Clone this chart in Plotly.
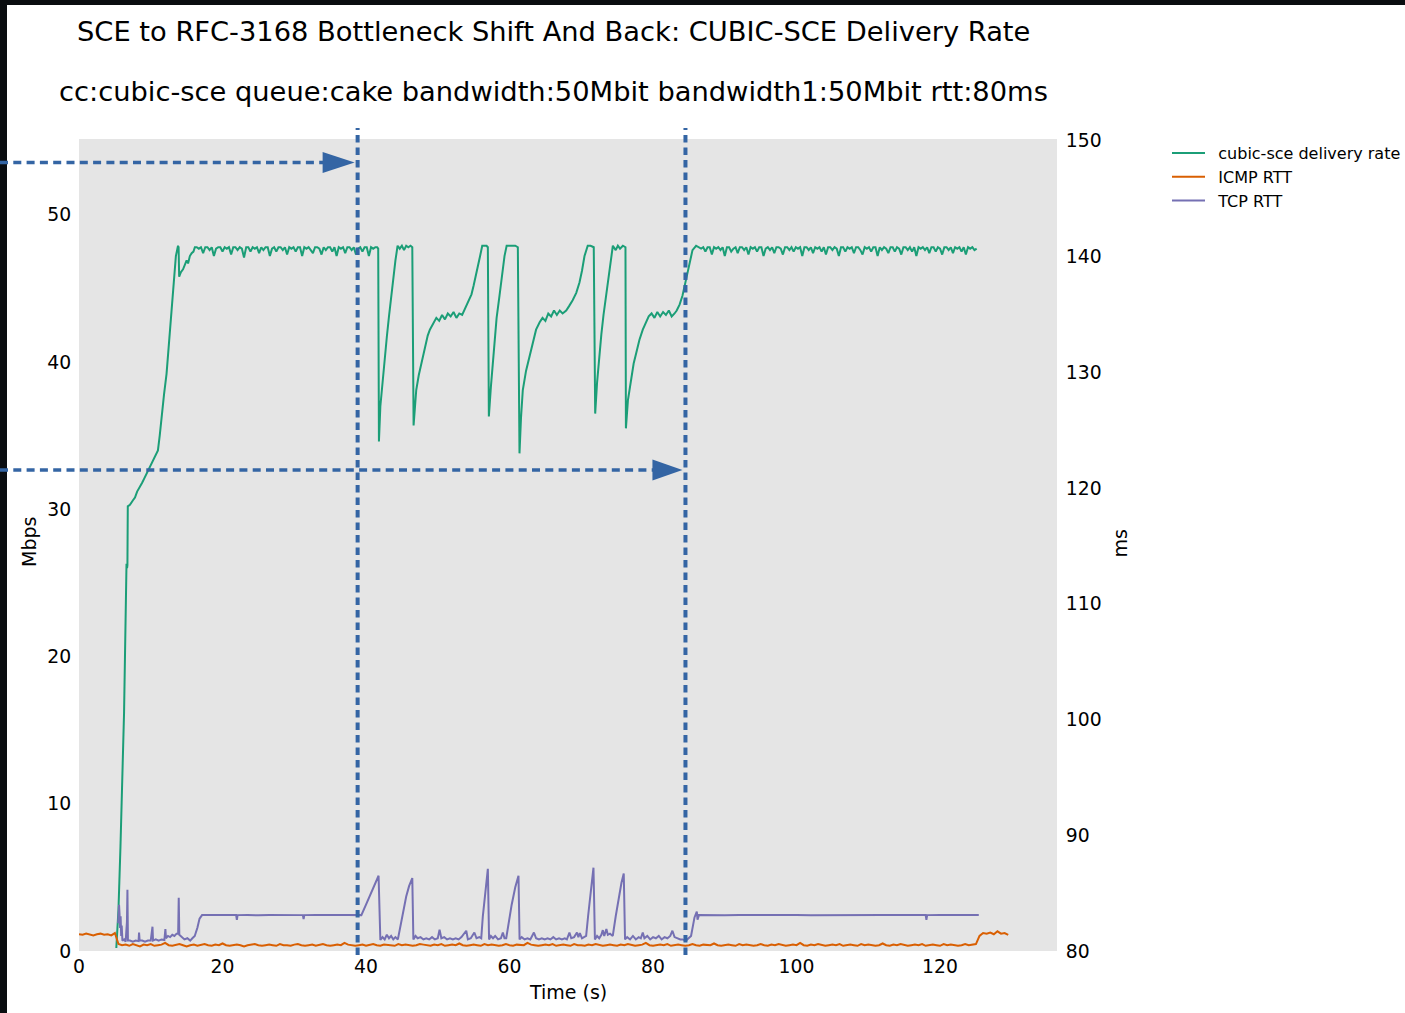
import plotly.graph_objects as go

# ---------------- data ----------------
# cubic-sce delivery rate (Mbps) : shaped parts (explicit times)
rate_t_a = [5.2, 5.5, 5.78, 6.05, 6.28, 6.62, 6.7, 6.75, 6.8, 7.1, 7.5, 7.8, 8.1, 8.5, 8.8, 9.1, 9.4,
            9.7, 10.1, 10.4, 10.7, 11.0, 11.25, 11.5, 11.85, 12.2, 12.55, 12.9, 13.2, 13.5, 13.8,
            13.88, 13.96, 14.2, 14.5, 14.8, 15.0, 15.2, 15.45, 15.7, 15.95, 16.15]
rate_v_a = [0.2, 2.8, 7.1, 11.8, 16.2, 26.3, 26.0, 26.2, 30.2, 30.3, 30.6, 30.8, 31.2, 31.5, 31.8, 32.1, 32.4,
            32.7, 33.1, 33.3, 33.6, 34.0, 35.0, 36.3, 37.8, 39.2, 41.4, 43.5, 45.4, 47.2, 47.9,
            47.8, 45.8, 46.1, 46.3, 46.6, 46.9, 46.7, 47.2, 47.4, 47.5, 47.8]
# steady segment 1 sampled every 0.3 s from 16.4 s
rate_flat1_start, rate_flat1_step = 16.4, 0.3
rate_flat1 = [47.8, 47.7, 47.8, 47.4, 47.8, 47.8, 47.6, 47.8, 47.2, 47.7,
              47.8, 47.8, 47.5, 47.8, 47.7, 47.8, 47.3, 47.8, 47.8, 47.6,
              47.8, 47.7, 47.1, 47.8, 47.8, 47.5, 47.8, 47.7, 47.8, 47.4,
              47.8, 47.6, 47.8, 47.8, 47.2, 47.7, 47.8, 47.5, 47.8, 47.8,
              47.6, 47.8, 47.3, 47.8, 47.7, 47.8, 47.5, 47.8, 47.8, 47.2,
              47.8, 47.7, 47.8, 47.6, 47.4, 47.8, 47.8, 47.7, 47.3, 47.8,
              47.6, 47.8, 47.8, 47.5, 47.8, 47.2, 47.8, 47.7, 47.8, 47.4,
              47.8, 47.8, 47.6, 47.8, 47.3, 47.7, 47.8, 47.5, 47.8, 47.8,
              47.2, 47.8, 47.7, 47.8]
rate_t_b = [41.55, 41.7, 41.8, 42.0, 42.3, 42.6, 42.9, 43.2, 43.5, 43.8, 44.1, 44.4, 44.7, 45.0, 45.3, 45.6,
            45.9, 46.2, 46.45, 46.63, 46.8, 47.0, 47.35, 47.7, 48.0, 48.3, 48.6, 48.9, 49.3, 49.8, 50.2,
            50.6, 51.0, 51.4, 51.8, 52.2, 52.6, 53.0, 53.4, 53.8, 54.1, 54.4, 54.7, 55.0, 55.3, 55.6,
            55.9, 56.2, 56.5, 56.8, 56.98, 57.12, 57.4, 57.67, 57.9, 58.2, 58.6, 59.0, 59.3, 59.6, 60.0,
            60.4, 60.8, 61.16, 61.39, 61.6, 61.85, 62.3, 62.8, 63.2, 63.7, 64.2, 64.6, 65.0, 65.4, 65.8,
            66.2, 66.6, 67.0, 67.4, 67.9, 68.3, 68.8, 69.3, 69.75, 70.1, 70.45, 70.9, 71.3, 71.74, 71.94,
            72.2, 72.53, 72.8, 73.1, 73.47, 73.8, 74.16, 74.4, 74.8, 75.1, 75.4, 75.8, 76.16, 76.22,
            76.5, 76.95, 77.3, 77.65, 78.1, 78.57, 79.0, 79.4, 79.8, 80.2, 80.6, 81.0, 81.4, 81.8, 82.2,
            82.6, 83.0, 83.3, 83.7, 84.1, 84.6, 85.1, 85.5, 86.0]
rate_v_b = [47.8, 47.7, 34.6, 37.0, 38.7, 40.0, 41.7, 43.1, 44.5, 45.8, 46.9, 47.9, 47.7, 47.9, 47.6, 47.9,
            47.8, 47.9, 47.8, 35.7, 37.0, 38.1, 39.1, 39.9, 40.6, 41.2, 41.8, 42.2, 42.6, 43.0, 42.8,
            43.2, 42.9, 43.3, 43.1, 43.4, 43.0, 43.3, 43.2, 43.6, 43.9, 44.2, 44.6, 45.2, 45.8, 46.5,
            47.2, 47.9, 47.9, 47.9, 47.8, 36.3, 38.3, 40.1, 41.6, 43.0, 44.5, 46.1, 47.2, 47.9, 47.9,
            47.9, 47.9, 47.8, 33.8, 36.2, 38.1, 39.4, 40.4, 41.3, 42.2, 42.7, 43.0, 42.8, 43.3, 43.1,
            43.5, 43.2, 43.5, 43.3, 43.5, 43.8, 44.2, 44.7, 45.4, 46.2, 47.2, 47.9, 47.9, 47.8, 36.5,
            38.6, 40.6, 41.9, 43.2, 44.5, 45.9, 47.2, 47.9, 47.6, 47.9, 47.7, 47.9, 47.8, 35.5,
            37.4, 39.0, 39.9, 40.6, 41.5, 42.2, 42.7, 43.1, 43.3, 43.0, 43.4, 43.1, 43.4, 43.2, 43.5,
            43.1, 43.3, 43.5, 43.9, 44.5, 45.6, 46.7, 47.6, 47.9]
# steady segment 2 sampled every 0.3 s from 86.4 s
rate_flat2_start, rate_flat2_step = 86.4, 0.3
rate_flat2 = [47.8, 47.7, 47.8, 47.5, 47.8, 47.8, 47.3, 47.8, 47.7, 47.8,
              47.6, 47.8, 47.2, 47.8, 47.8, 47.5, 47.7, 47.8, 47.4, 47.8,
              47.8, 47.6, 47.8, 47.3, 47.8, 47.7, 47.8, 47.5, 47.8, 47.8,
              47.2, 47.7, 47.8, 47.6, 47.8, 47.4, 47.8, 47.8, 47.7, 47.3,
              47.8, 47.8, 47.6, 47.8, 47.5, 47.8, 47.7, 47.8, 47.2, 47.8,
              47.8, 47.6, 47.8, 47.4, 47.8, 47.7, 47.8, 47.5, 47.8, 47.3,
              47.8, 47.8, 47.6, 47.8, 47.7, 47.2, 47.8, 47.8, 47.5, 47.8,
              47.7, 47.8, 47.4, 47.8, 47.8, 47.6, 47.3, 47.8, 47.7, 47.8,
              47.5, 47.8, 47.8, 47.2, 47.8, 47.6, 47.8, 47.7, 47.4, 47.8,
              47.8, 47.5, 47.8, 47.7, 47.3, 47.8, 47.8, 47.6, 47.8, 47.5,
              47.8, 47.2, 47.8, 47.7, 47.8, 47.6, 47.8, 47.4, 47.8, 47.8,
              47.5, 47.8, 47.7, 47.3, 47.8, 47.8, 47.6, 47.8, 47.4, 47.8,
              47.7, 47.8, 47.5, 47.8, 47.3, 47.8, 47.7, 47.8, 47.6, 47.7]

# ICMP RTT (ms), sampled every 0.5 s from 0 s
icmp_start, icmp_step = 0.0, 0.5
icmp_v = [81.45, 81.4, 81.5, 81.45, 81.35, 81.45, 81.5, 81.4, 81.45, 81.35, 81.55,
          80.6, 80.5, 80.55, 80.45, 80.6, 80.5, 80.4, 80.55, 80.5, 80.6, 80.45, 80.5, 80.55, 80.7, 80.5, 80.45, 80.5, 80.6, 80.5, 80.4,
          80.5, 80.55, 80.45, 80.5, 80.6, 80.5, 80.45, 80.55, 80.5, 80.65, 80.5, 80.45, 80.5, 80.55, 80.5, 80.4, 80.5, 80.55, 80.6, 80.5,
          80.45, 80.5, 80.55, 80.5, 80.45, 80.6, 80.5, 80.5, 80.45, 80.55, 80.6, 80.5, 80.45, 80.5, 80.55, 80.45, 80.5, 80.6, 80.5, 80.45,
          80.5, 80.55, 80.5, 80.7, 80.55, 80.5, 80.45, 80.5, 80.55, 80.45, 80.5, 80.6, 80.5, 80.45, 80.55, 80.5, 80.5, 80.45, 80.6, 80.5,
          80.55, 80.5, 80.45, 80.5, 80.6, 80.55, 80.5, 80.45, 80.55, 80.5, 80.6, 80.45, 80.5, 80.55, 80.5, 80.65, 80.5, 80.45, 80.5, 80.55,
          80.5, 80.45, 80.6, 80.5, 80.55, 80.5, 80.45, 80.5, 80.6, 80.5, 80.45, 80.55, 80.5, 80.5, 80.7, 80.55, 80.5, 80.45, 80.5, 80.55,
          80.5, 80.6, 80.45, 80.5, 80.55, 80.5, 80.45, 80.6, 80.5, 80.5, 80.45, 80.55, 80.5, 80.6, 80.5, 80.45, 80.5, 80.55, 80.5, 80.45,
          80.55, 80.5, 80.6, 80.5, 80.45, 80.5, 80.55, 80.7, 80.5, 80.45, 80.5, 80.55, 80.5, 80.6, 80.45, 80.5, 80.55, 80.5, 80.45, 80.5,
          80.6, 80.5, 80.45, 80.55, 80.5, 80.5, 80.65, 80.5, 80.45, 80.5, 80.55, 80.5, 80.45, 80.6, 80.5, 80.55, 80.5, 80.45, 80.5, 80.6,
          80.5, 80.45, 80.55, 80.5, 80.6, 80.5, 80.45, 80.5, 80.55, 80.5, 80.7, 80.5, 80.45, 80.55, 80.5, 80.6, 80.5, 80.45, 80.5, 80.55,
          80.5, 80.6, 80.45, 80.5, 80.55, 80.5, 80.45, 80.6, 80.5, 80.55, 80.5, 80.45, 80.5, 80.65, 80.5, 80.45, 80.55, 80.5, 80.6, 80.5,
          80.45, 80.5, 80.55, 80.5, 80.6, 80.45, 80.5, 80.55, 80.5, 80.45, 80.6, 80.5, 80.55, 80.5, 80.45, 80.5, 80.6, 80.5, 80.55, 80.6,
          81.3, 81.55, 81.5, 81.6, 81.45, 81.7, 81.5, 81.55, 81.4]

# TCP RTT (ms)
tcp_t = [5.45, 5.52, 5.58, 5.65, 5.72, 5.8, 5.88, 5.95, 6.05, 6.3, 6.5, 6.68, 6.75, 6.82, 7.1, 7.5, 7.9,
         8.3, 8.37, 8.45, 8.8, 9.2, 9.6, 10.0, 10.24, 10.32, 10.7, 11.1, 11.5, 11.9, 12.04, 12.12, 12.4,
         12.7, 13.0, 13.3, 13.6, 13.82, 13.9, 13.98, 14.3, 14.7, 15.1, 15.5, 15.8, 16.13, 16.5, 16.8,
         17.15, 18.0, 19.0, 20.0, 21.0, 21.9, 22.0, 22.1, 23.5, 25.0, 26.5, 28.0, 29.5, 31.2, 31.3, 31.4,
         33.0, 34.5, 36.0, 37.5, 39.35, 40.0, 40.6, 41.2, 41.75, 42.0, 42.3, 42.6, 42.9, 43.2, 43.5, 43.8,
         44.1, 44.44, 44.8, 45.2, 45.6, 46.0, 46.45, 46.6, 46.9, 47.2, 47.6, 48.0, 48.4, 48.8, 49.2, 49.6,
         50.0, 50.25, 50.5, 50.9, 51.3, 51.7, 52.1, 52.5, 52.9, 53.3, 53.97, 54.2, 54.6, 55.1, 55.4, 55.8,
         56.06, 56.28, 56.6, 56.98, 57.15, 57.4, 57.7, 58.0, 58.4, 58.8, 59.07, 59.3, 59.54, 59.9, 60.3,
         60.8, 61.25, 61.4, 61.7, 62.1, 62.5, 62.9, 63.4, 63.7, 64.1, 64.5, 64.9, 65.3, 65.7, 66.1, 66.5,
         66.9, 67.3, 67.7, 68.0, 68.35, 68.6, 69.0, 69.4, 69.6, 69.8, 70.1, 70.4, 70.68, 70.95, 71.3, 71.7,
         71.9, 72.2, 72.5, 72.8, 73.0, 73.2, 73.5, 73.7, 74.0, 74.39, 74.8, 75.2, 75.6, 75.92, 76.1, 76.4,
         76.8, 77.2, 77.6, 78.0, 78.3, 78.57, 78.8, 79.2, 79.6, 80.0, 80.4, 80.8, 81.2, 81.6, 82.0, 82.4,
         82.7, 83.0, 83.4, 83.8, 84.1, 84.6, 85.3, 85.78, 86.1, 86.2, 86.4, 88.0, 90.0, 92.0, 94.0, 96.0,
         98.0, 100.0, 102.0, 104.0, 106.0, 108.0, 110.0, 112.0, 114.0, 116.0, 118.0, 118.1, 118.2, 120.0,
         122.0, 124.0, 125.4]
tcp_v = [82.4, 83.6, 84.0, 83.2, 82.0, 83.0, 81.3, 82.2, 80.9, 81.0, 80.8, 82.5, 85.3, 80.9, 80.9, 80.8, 80.9,
         80.85, 81.6, 80.9, 80.9, 80.8, 80.9, 80.9, 82.1, 80.9, 81.0, 80.9, 81.0, 80.95, 81.9, 81.1, 81.3,
         81.2, 81.4, 81.3, 81.5, 81.5, 84.6, 81.4, 81.2, 81.0, 81.1, 80.9, 81.1, 81.3, 82.0, 82.8,
         83.1, 83.1, 83.12, 83.08, 83.1, 83.1, 82.7, 83.1, 83.12, 83.08, 83.12, 83.1, 83.08, 83.1, 82.75, 83.1,
         83.12, 83.08, 83.1, 83.12, 83.1, 84.0, 84.9, 85.7, 86.5, 80.95, 81.2, 81.0, 81.4, 81.1, 81.3, 81.0,
         81.2, 81.0, 82.2, 83.6, 84.7, 85.6, 86.3, 81.0, 81.3, 81.1, 81.2, 81.0, 81.1, 81.0, 81.2, 81.0,
         81.1, 81.85, 81.1, 81.2, 81.0, 81.1, 81.0, 81.1, 81.0, 81.2, 81.75, 81.0, 81.1, 81.6, 81.1, 81.2,
         81.1, 83.0, 85.0, 87.1, 81.0, 81.3, 81.1, 81.3, 81.0, 81.1, 81.6, 81.1, 81.1, 82.5, 84.0,
         85.5, 86.5, 81.0, 81.2, 81.0, 81.1, 81.0, 81.6, 81.1, 81.0, 81.1, 81.0, 81.1, 81.0, 81.2, 81.0,
         81.1, 81.0, 81.1, 81.0, 81.6, 81.1, 81.2, 81.6, 81.2, 81.55, 81.1, 81.2, 81.3, 83.0, 85.0, 87.2,
         81.0, 81.3, 81.1, 81.4, 81.8, 81.3, 81.9, 81.4, 81.5, 81.3, 83.0, 84.6, 85.9, 86.7, 81.0, 81.2,
         81.0, 81.3, 81.0, 81.2, 81.1, 81.6, 81.1, 81.3, 81.0, 81.2, 81.1, 81.3, 81.0, 81.2, 81.1, 81.3,
         81.75, 81.2, 81.1, 81.0, 81.0, 80.9, 81.3, 82.9, 83.4, 82.7, 83.1, 83.12, 83.08, 83.1, 83.12, 83.08,
         83.1, 83.12, 83.08, 83.1, 83.12, 83.08, 83.1, 83.12, 83.1, 83.08, 83.1, 82.7, 83.1, 83.12,
         83.08, 83.1, 83.1]

# bottleneck shift / shift-back instants (s)
shift_times = [38.83, 84.52]

series_names = ["cubic-sce delivery rate", "ICMP RTT", "TCP RTT"]
series_colors = ["#1b9e77", "#d95f02", "#7570b3"]
title_text = "SCE to RFC-3168 Bottleneck Shift And Back: CUBIC-SCE Delivery Rate"
subtitle_text = "cc:cubic-sce queue:cake bandwidth:50Mbit bandwidth1:50Mbit rtt:80ms"

# ---------------- assemble ----------------
def grid(start, step, n):
    return [round(start + step * i, 3) for i in range(n)]

rate_t = (rate_t_a + grid(rate_flat1_start, rate_flat1_step, len(rate_flat1)) + rate_t_b
          + grid(rate_flat2_start, rate_flat2_step, len(rate_flat2)))
rate_v = rate_v_a + rate_flat1 + rate_v_b + rate_flat2
icmp_t = grid(icmp_start, icmp_step, len(icmp_v))

X_MAX = 136.3
FONT = "DejaVu Sans"
W, H = 1405, 1013
ML, MR, MT, MB = 79, 348, 139, 62
PW, PH = W - ML - MR, H - MT - MB

def px(xp):
    return (xp - ML) / PW

def py(yp):
    return (MT + PH - yp) / PH

LEG_PAD = "\u00a0\u2009"  # small gap between legend line and label

fig = go.Figure()
fig.add_trace(go.Scatter(x=rate_t, y=rate_v, mode="lines", name=LEG_PAD + series_names[0],
                         line=dict(color=series_colors[0], width=2), yaxis="y"))
fig.add_trace(go.Scatter(x=icmp_t, y=icmp_v, mode="lines", name=LEG_PAD + series_names[1],
                         line=dict(color=series_colors[1], width=2), yaxis="y2"))
fig.add_trace(go.Scatter(x=tcp_t, y=tcp_v, mode="lines", name=LEG_PAD + series_names[2],
                         line=dict(color=series_colors[2], width=2), yaxis="y2"))

tickfont = dict(family=FONT, size=18.8, color="black")
fig.update_layout(
    width=W, height=H,
    margin=dict(l=ML, r=MR, t=MT, b=MB, pad=0, autoexpand=False),
    paper_bgcolor="white", plot_bgcolor="#e5e5e5",
    font=dict(family=FONT, color="black"),
    showlegend=True,
    legend=dict(x=px(1167), y=py(136), xanchor="left", yanchor="top",
                font=dict(family=FONT, size=16, color="black"),
                bgcolor="rgba(0,0,0,0)", itemwidth=33),
    xaxis=dict(range=[0, X_MAX], tickvals=[0, 20, 40, 60, 80, 100, 120], showgrid=False,
               zeroline=False, showline=False, ticks="", ticklabelstandoff=2,
               tickfont=tickfont, automargin=False),
    yaxis=dict(range=[0, 55.15], tickvals=[0, 10, 20, 30, 40, 50], showgrid=False,
               zeroline=False, showline=False, ticks="outside", ticklen=3,
               tickcolor="rgba(0,0,0,0)", tickfont=tickfont, automargin=False),
    yaxis2=dict(range=[80, 150.15], tickvals=[80, 90, 100, 110, 120, 130, 140, 150], overlaying="y",
                side="right", showgrid=False, zeroline=False, showline=False, ticks="outside",
                ticklen=4, tickcolor="rgba(0,0,0,0)", tickfont=tickfont, automargin=False),
)

ann = []
ann.append(dict(text=title_text, x=px(553), y=py(31), xref="paper", yref="paper",
                xanchor="center", yanchor="middle", showarrow=False,
                font=dict(family=FONT, size=27.3, color="black")))
ann.append(dict(text=subtitle_text, x=px(553), y=py(91), xref="paper", yref="paper",
                xanchor="center", yanchor="middle", showarrow=False,
                font=dict(family=FONT, size=27.3, color="black")))
ann.append(dict(text="Time (s)", x=px(568), y=py(992), xref="paper", yref="paper",
                xanchor="center", yanchor="middle", showarrow=False,
                font=dict(family=FONT, size=19, color="black")))
ann.append(dict(text="Mbps", x=px(29), y=py(542), xref="paper", yref="paper", textangle=-90,
                xanchor="center", yanchor="middle", showarrow=False,
                font=dict(family=FONT, size=19, color="black")))
ann.append(dict(text="ms", x=px(1119.5), y=py(544), xref="paper", yref="paper", textangle=-90,
                xanchor="center", yanchor="middle", showarrow=False,
                font=dict(family=FONT, size=19, color="black")))
fig.update_layout(annotations=ann)

shapes = []
BLACK = "#0a0d10"
shapes.append(dict(type="rect", xref="paper", yref="paper", x0=px(0), x1=px(7), y0=py(H), y1=py(0),
                   fillcolor=BLACK, line=dict(width=0), layer="above"))
shapes.append(dict(type="rect", xref="paper", yref="paper", x0=px(0), x1=px(W), y0=py(5), y1=py(0),
                   fillcolor=BLACK, line=dict(width=0), layer="above"))
BLUE = "#3465a4"
for t in shift_times:
    xp = t / X_MAX
    shapes.append(dict(type="line", xref="paper", yref="paper", x0=xp, x1=xp, y0=py(955), y1=py(128),
                       line=dict(color=BLUE, width=4, dash="7.5px,5px"), layer="above"))
arrow_rows = [162.5, 470]  # pixel rows of the arrows
for t, yr, L in zip(shift_times, arrow_rows, [32, 30]):
    tip_px = ML + t / X_MAX * PW - 3
    base_px = tip_px - L
    yp = py(yr)
    shapes.append(dict(type="line", xref="paper", yref="paper", x0=px(0), x1=px(base_px + 2), y0=yp, y1=yp,
                       line=dict(color=BLUE, width=3.5, dash="8px,5.3px"), layer="above"))
    hh = 10.5 / PH
    shapes.append(dict(type="path", xref="paper", yref="paper",
                       path=f"M {px(base_px)},{yp + hh} L {px(tip_px)},{yp} L {px(base_px)},{yp - hh} Z",
                       fillcolor=BLUE, line=dict(color=BLUE, width=0), layer="above"))
fig.update_layout(shapes=shapes)

fig.write_html("out.html")
